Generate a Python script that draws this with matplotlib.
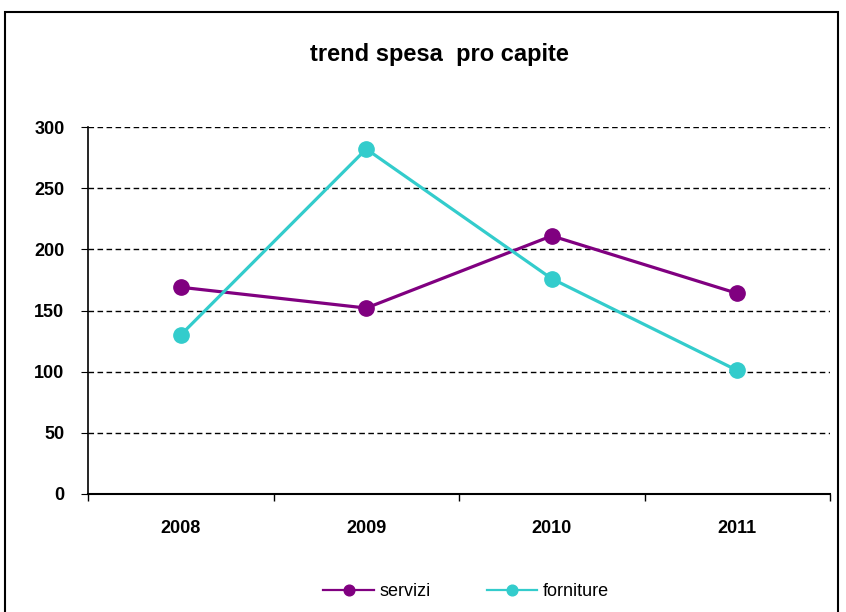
import matplotlib.pyplot as plt
from matplotlib.patches import Rectangle

plt.rcParams['font.family'] = ['Liberation Sans', 'DejaVu Sans']

anni = ['2008', '2009', '2010', '2011']
servizi = [169, 152, 211, 164]
forniture = [130, 282, 176, 101]

fig = plt.figure(figsize=(8.46, 6.12), dpi=100)
ax = fig.add_axes([88 / 846, 1 - 494 / 612, (830 - 88) / 846, (494 - 127) / 612])

x = range(len(anni))
ax.plot(x, servizi, color='#800080', lw=2.3, marker='o', ms=11, label='servizi', clip_on=False, zorder=3)
ax.plot(x, forniture, color='#33CCCC', lw=2.3, marker='o', ms=11, label='forniture', clip_on=False, zorder=3)

ax.set_xlim(-0.5, 3.5)
ax.set_ylim(0, 300)
ax.set_yticks(range(0, 301, 50))
for v in range(50, 301, 50):
    ax.axhline(v, color='black', lw=1, ls=(0, (4, 2.5)), zorder=1)

ax.set_xticks(list(x))
ax.set_xticklabels(anni, fontsize=13, fontweight='bold')
ax.set_xticks([i - 0.5 for i in range(5)], minor=True)
ax.tick_params(axis='x', which='major', length=0, pad=19)
ax.tick_params(axis='x', which='minor', length=5, direction='out', width=1)
ax.tick_params(axis='y', length=5, direction='out', labelsize=13, pad=12)
for lab in ax.get_yticklabels():
    lab.set_fontweight('bold')

ax.spines['top'].set_visible(False)
ax.spines['right'].set_visible(False)
ax.spines['left'].set_linewidth(1.2)
ax.spines['bottom'].set_linewidth(1.5)

fig.text(439 / 846, 1 - 54 / 612, 'trend spesa  pro capite', ha='center', va='center',
         fontsize=17, fontweight='bold')

leg = fig.legend(loc='center', bbox_to_anchor=(466 / 846, 1 - 592 / 612), ncol=2, frameon=False,
                 fontsize=13, handlelength=2.8, columnspacing=3.1, handletextpad=0.3,
                 markerscale=0.7)
for h in leg.get_lines():
    h.set_linewidth(1.6)

fig.patches.append(Rectangle((5 / 846, -0.05), (838 - 5) / 846, 1.05 - 12 / 612,
                             transform=fig.transFigure, fill=False, lw=1.5, ec='black'))

fig.savefig('out.png', dpi=100)
